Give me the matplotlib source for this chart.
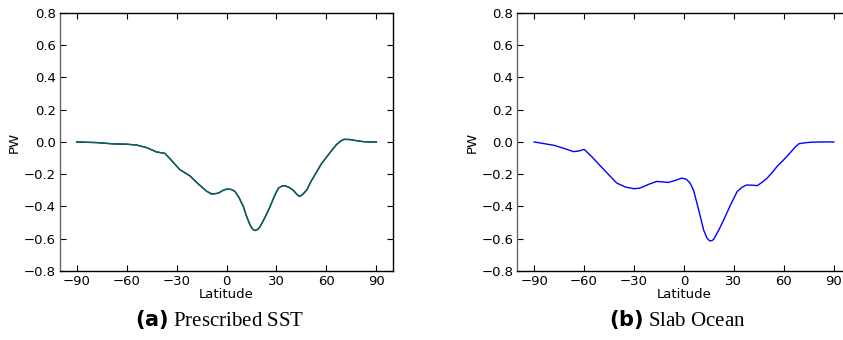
import numpy as np
import matplotlib
matplotlib.use('Agg')
import matplotlib.pyplot as plt

# latitude / PW values
lat_sst = [-90, -78, -68, -60, -54, -48, -42, -37, -33, -28, -22, -17, -12, -8.9,
           -5, -2, 0.1, 3, 5.1, 7.5, 10.1, 12, 14.1, 15.8, 17.2, 18.8, 20.2, 23,
           26.2, 29, 31.2, 33.2, 35.2, 37.5, 40.2, 42.2, 43.9, 45.8, 48.3, 51,
           54.3, 57, 60, 63, 66, 68.5, 70.5, 74, 78, 82, 86, 90]
pw_sst = [0.0, -0.004, -0.012, -0.014, -0.019, -0.035, -0.062, -0.071, -0.115,
          -0.172, -0.21, -0.26, -0.305, -0.323, -0.318, -0.30, -0.292, -0.295,
          -0.307, -0.345, -0.40, -0.46, -0.514, -0.542, -0.549, -0.542, -0.524,
          -0.47, -0.40, -0.33, -0.286, -0.274, -0.271, -0.282, -0.30, -0.325,
          -0.338, -0.325, -0.296, -0.24, -0.183, -0.135, -0.095, -0.055, -0.017,
          0.005, 0.016, 0.015, 0.008, 0.002, 0.0, 0.0]

lat_slab = [-90, -78, -72, -66.3, -63, -59.9, -55, -50, -45, -40.3, -35, -30, -26.4,
            -21, -16.4, -12.5, -9.4, -5, -1.3, 1.5, 3.7, 5.8, 7.8, 9.8, 11.8, 13.8,
            15.4, 16.8, 17.9, 21, 23.9, 28, 32, 35, 37.6, 41, 44, 47, 50, 53, 56,
            60, 64, 67, 69.1, 72, 76, 82, 90]
pw_slab = [0.0, -0.021, -0.040, -0.060, -0.056, -0.046, -0.095, -0.151, -0.205,
           -0.255, -0.28, -0.29, -0.286, -0.262, -0.245, -0.248, -0.251, -0.238,
           -0.224, -0.232, -0.255, -0.30, -0.379, -0.46, -0.545, -0.595, -0.613,
           -0.612, -0.603, -0.545, -0.483, -0.39, -0.307, -0.28, -0.267, -0.268,
           -0.271, -0.25, -0.224, -0.19, -0.151, -0.11, -0.065, -0.03, -0.011,
           -0.006, -0.002, 0.0, 0.0]

xticks = [-90, -60, -30, 0, 30, 60, 90]
yticks = [0.8, 0.6, 0.4, 0.2, 0.0, -0.2, -0.4, -0.6, -0.8]

fig = plt.figure(figsize=(8.43, 3.4), dpi=100)
ax1 = fig.add_axes([0.0712, 0.203, 0.395, 0.759])
ax2 = fig.add_axes([0.6138, 0.203, 0.395, 0.759])

ax1.plot(lat_sst, pw_sst, color='blue', lw=1.0)
ax1.plot(lat_sst, pw_sst, color='#0b6b35', lw=1.0)
ax2.plot(lat_slab, pw_slab, color='blue', lw=1.0)

for ax in [ax1, ax2]:
    ax.set_xlim(-100, 100)
    ax.set_ylim(-0.8, 0.8)
    ax.set_xticks(xticks)
    ax.set_yticks(yticks)
    ax.tick_params(direction='in', top=True, right=True, labelsize=9.5,
                   length=4, width=0.8, pad=3)
    ax.set_xlabel('Latitude', fontsize=9.5, labelpad=0)
    ax.set_ylabel('PW', fontsize=9.5, labelpad=2)
    for s in ax.spines.values():
        s.set_linewidth(1.0)
    ax.spines['left'].set_color('#666666')

fig.text(0.261, 0.059, r'$\bf{(a)}$ Prescribed SST', ha='center', va='center',
         fontsize=15, family='Liberation Serif')
fig.text(0.803, 0.059, r'$\bf{(b)}$ Slab Ocean', ha='center', va='center',
         fontsize=15, family='Liberation Serif')

fig.savefig('out.png', dpi=100)
